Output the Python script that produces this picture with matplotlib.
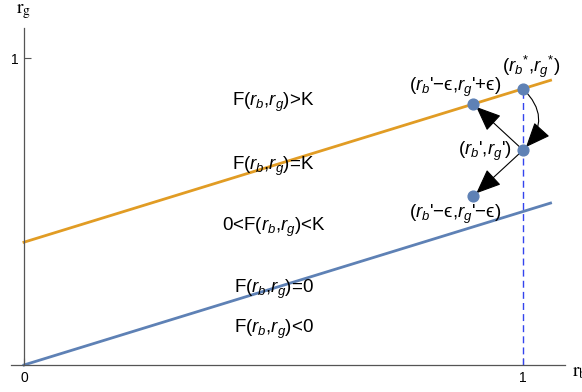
import numpy as np
import matplotlib.pyplot as plt
from matplotlib.patches import FancyArrowPatch

plt.rcParams['font.family'] = ['Liberation Sans', 'DejaVu Sans']
plt.rcParams['mathtext.fontset'] = 'custom'
plt.rcParams['mathtext.rm'] = 'Liberation Sans'
plt.rcParams['mathtext.it'] = 'Liberation Sans:italic'
plt.rcParams['mathtext.fallback'] = 'stixsans'

# boundary lines r_g = a + b * r_b
rb_line = [0.0, 1.055]
lower_icpt, upper_icpt, slope = 0.0, 0.4, 0.5

# points: star, prime, prime-eps up, prime-eps down
pt_rb = [1.0, 1.0, 0.9, 0.9]
pt_rg = [0.9, 0.7, 0.85, 0.55]
pt_labels = [r"($r_b{}^{*}$,$r_g{}^{*}$)", r"($r_b$',$r_g$')",
             r"($r_b$'−ϵ,$r_g$'+ϵ)", r"($r_b$'−ϵ,$r_g$'−ϵ)"]

regions = [r"F($r_b$,$r_g$)>K", r"F($r_b$,$r_g$)=K", r"0<F($r_b$,$r_g$)<K",
           r"F($r_b$,$r_g$)=0", r"F($r_b$,$r_g$)<0"]
region_y = [0.855, 0.648, 0.448, 0.246, 0.116]

blue = '#5E81B5'
orange = '#E19C24'

fig = plt.figure(figsize=(5.82, 3.92), dpi=100)
ax = fig.add_axes([0, 0, 1, 1])
ax.set_xlim(-0.048, 1.118)
ax.set_ylim(-0.088, 1.189)

for s in ['top', 'right']:
    ax.spines[s].set_visible(False)
ax.spines['left'].set_position(('data', 0))
ax.spines['bottom'].set_position(('data', 0))
ax.spines['left'].set_bounds(0, 1.098)
ax.spines['bottom'].set_bounds(-0.026, 1.084)
for s in ['left', 'bottom']:
    ax.spines[s].set_color('#555555')
    ax.spines[s].set_linewidth(0.9)
ax.set_xticks([0, 1])
ax.set_yticks([1])
ax.tick_params(direction='in', length=5, color='#555555', labelsize=10, pad=4)

x = np.array(rb_line)
ax.plot(x, lower_icpt + slope * x, color=blue, lw=2)
ax.plot(x, upper_icpt + slope * x, color=orange, lw=2)
ax.plot([pt_rb[0], pt_rb[0]], [0, pt_rg[0]], color='#3344ee', lw=1, ls=(0, (5, 3)))

def arrow(p, q, rad=0.0):
    a = FancyArrowPatch(p, q, connectionstyle=f"arc3,rad={rad}",
                        arrowstyle="-|>,head_length=1.2,head_width=0.5",
                        mutation_scale=13, color='black', lw=0.8,
                        shrinkA=0, shrinkB=3, zorder=3)
    ax.add_patch(a)

arrow((pt_rb[0], pt_rg[0]), (pt_rb[1], pt_rg[1]), rad=-0.5)
arrow((pt_rb[1], pt_rg[1]), (pt_rb[2], pt_rg[2]))
arrow((pt_rb[1], pt_rg[1]), (pt_rb[3], pt_rg[3]))

ax.scatter(pt_rb, pt_rg, s=60, color=blue, zorder=4)

fs = 13.5
for t, yy in zip(regions, region_y):
    ax.text(0.5, yy, t, ha='center', va='center', fontsize=fs)

ax.text(1.016, 0.97, pt_labels[0], ha='center', va='center', fontsize=fs)
ax.text(0.978, 0.695, pt_labels[1], ha='right', va='center', fontsize=fs)
ax.text(0.864, 0.905, pt_labels[2], ha='center', va='center', fontsize=fs)
ax.text(0.864, 0.49, pt_labels[3], ha='center', va='center', fontsize=fs)

ax.text(0.0, 1.15, r"$\mathrm{r}_{\mathrm{g}}$", fontsize=14, math_fontfamily='stix',
        ha='center', va='center')
ax.text(1.097, -0.025, r"$\mathrm{r}_{\mathrm{b}}$", fontsize=14, math_fontfamily='stix',
        ha='left', va='center')

fig.savefig('out.png', dpi=100)
